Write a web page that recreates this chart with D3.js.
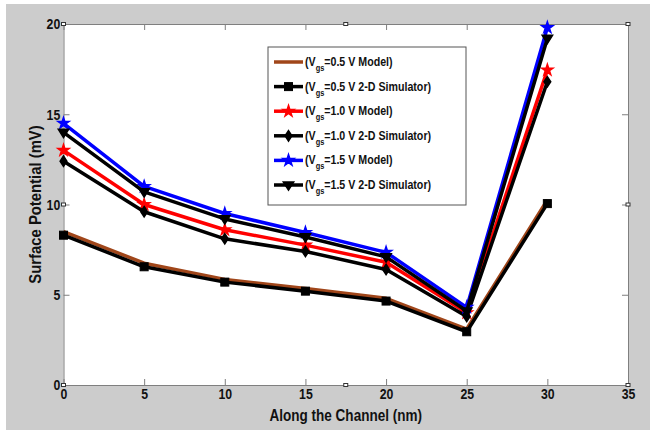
<!DOCTYPE html>
<html>
<head>
<meta charset="utf-8">
<script src="https://cdn.jsdelivr.net/npm/d3@7"></script>
<style>
  body { margin: 0; background: #fff; }
  svg text { font-family: "Liberation Sans", Arial, sans-serif; font-weight: bold; }
</style>
</head>
<body>
<svg id="chart" width="650" height="430"></svg>
<script>
// data
var channel = [0, 5, 10, 15, 20, 25, 30];
var model05 = [8.5, 6.75, 5.85, 5.35, 4.8, 3.1, 10.25];
var sim05   = [8.3, 6.55, 5.7, 5.2, 4.65, 2.95, 10.05];
var model10 = [13.0, 10.0, 8.6, 7.75, 6.8, 4.0, 17.45];
var sim10   = [12.4, 9.6, 8.1, 7.4, 6.4, 3.8, 16.8];
var model15 = [14.5, 11.0, 9.5, 8.45, 7.35, 4.3, 19.8];
var sim15   = [14.0, 10.7, 9.2, 8.2, 7.1, 4.1, 19.2];
var xTicks = [0, 5, 10, 15, 20, 25, 30, 35];
var yTicks = [0, 5, 10, 15, 20];

var series = [
  { name: "=0.5 V Model", values: model05, color: "#a0461a", marker: "none" },
  { name: "=0.5 V 2-D Simulator", values: sim05, color: "#000", marker: "square" },
  { name: "=1.0 V Model", values: model10, color: "#ff0000", marker: "star" },
  { name: "=1.0 V 2-D Simulator", values: sim10, color: "#000", marker: "diamond" },
  { name: "=1.5 V Model", values: model15, color: "#0000ff", marker: "star" },
  { name: "=1.5 V 2-D Simulator", values: sim15, color: "#000", marker: "tridown" }
];

var svg = d3.select("#chart");
var margin = { left: 63.5, right: 22, top: 24, bottom: 45 };
var W = 650, H = 430;
var squeeze = 0.82; // the original font is a condensed bold sans

// grey figure background
svg.append("rect").attr("x", 6).attr("y", 4).attr("width", W - 6).attr("height", H - 4).attr("fill", "#cccccc");

var x = d3.scaleLinear().domain([0, 35]).range([margin.left, W - margin.right]);
var y = d3.scaleLinear().domain([0, 20]).range([H - margin.bottom, margin.top]);

svg.append("rect")
  .attr("x", x(0)).attr("y", y(20))
  .attr("width", x(35) - x(0)).attr("height", y(0) - y(20))
  .attr("fill", "#fff");

// axes, ticks pointing inwards
var axisColor = "#7f7f7f";
var axBottom = svg.append("g").attr("transform", "translate(0," + y(0) + ")")
  .call(d3.axisBottom(x).tickValues(xTicks).tickSizeInner(-6).tickSizeOuter(0).tickPadding(3));
var axTop = svg.append("g").attr("transform", "translate(0," + y(20) + ")")
  .call(d3.axisTop(x).tickValues(xTicks).tickSizeInner(-6).tickSizeOuter(0).tickFormat(""));
var axLeft = svg.append("g").attr("transform", "translate(" + x(0) + ",0)")
  .call(d3.axisLeft(y).tickValues(yTicks).tickSizeInner(-6).tickSizeOuter(0).tickPadding(4));
var axRight = svg.append("g").attr("transform", "translate(" + x(35) + ",0)")
  .call(d3.axisRight(y).tickValues(yTicks).tickSizeInner(-6).tickSizeOuter(0).tickFormat(""));

[axBottom, axTop, axLeft, axRight].forEach(function (g) {
  g.select(".domain").attr("stroke", axisColor);
  g.selectAll(".tick line").attr("stroke", axisColor);
  g.selectAll(".tick text").attr("fill", "#111").attr("font-size", 15).attr("font-weight", "bold")
    .attr("font-family", "'Liberation Sans', Arial, sans-serif")
    .attr("transform", "scale(" + squeeze + ",1)");
});

// little matlab artifacts on the axes
var bits = [[17.5, 0], [17.5, 20], [0, 10], [35, 10], [0, 0], [35, 0], [0, 20], [35, 20]];
svg.selectAll(".bit").data(bits).enter().append("rect")
  .attr("x", function (d) { return x(d[0]) - 2; })
  .attr("y", function (d) { return y(d[1]) - 1.5; })
  .attr("width", 4).attr("height", 3)
  .attr("fill", "#fff").attr("stroke", "#333").attr("stroke-width", 1);

// axis titles
svg.append("text")
  .attr("transform", "translate(" + ((x(0) + x(35)) / 2) + ",421) scale(" + squeeze + ",1)")
  .attr("text-anchor", "middle").attr("font-size", 16.5).attr("fill", "#111")
  .text("Along the Channel (nm)");
svg.append("text")
  .attr("transform", "translate(41," + ((y(0) + y(20)) / 2) + ") rotate(-90) scale(0.9,1)")
  .attr("text-anchor", "middle").attr("font-size", 16.5).attr("fill", "#111")
  .text("Surface Potential (mV)");

function drawMarker(g, type, color, cx, cy, s) {
  if (type === "square") {
    g.append("rect").attr("x", cx - s / 2).attr("y", cy - s / 2).attr("width", s).attr("height", s)
      .attr("fill", "#000").attr("stroke", "#000").attr("stroke-width", 1);
  } else if (type === "star") {
    g.append("path").attr("d", d3.symbol().type(d3.symbolStar).size(s * s * 0.6)())
      .attr("transform", "translate(" + cx + "," + cy + ")")
      .attr("fill", color).attr("stroke", color).attr("stroke-width", 1.5);
  } else if (type === "diamond") {
    var r = s * 0.65;
    g.append("path").attr("d", "M" + cx + "," + (cy - r) + "L" + (cx + r * 0.65) + "," + cy + "L" + cx + "," + (cy + r) + "L" + (cx - r * 0.65) + "," + cy + "Z")
      .attr("fill", "#000").attr("stroke", "#000").attr("stroke-width", 1.5);
  } else if (type === "tridown") {
    var t = s * 0.65;
    g.append("path").attr("d", "M" + (cx - t) + "," + (cy - t * 0.6) + "L" + (cx + t) + "," + (cy - t * 0.6) + "L" + cx + "," + (cy + t) + "Z")
      .attr("fill", "#000").attr("stroke", "#000").attr("stroke-width", 1.5);
  }
}

var line = d3.line()
  .x(function (d, i) { return x(channel[i]); })
  .y(function (d) { return y(d); });

var plot = svg.append("g");
series.forEach(function (s) {
  var g = plot.append("g");
  g.append("path").datum(s.values)
    .attr("d", line).attr("fill", "none")
    .attr("stroke", s.color).attr("stroke-width", 3.5)
    .attr("stroke-linejoin", "round");
  s.values.forEach(function (v, i) {
    drawMarker(g, s.marker, s.color, x(channel[i]), y(v), 8);
  });
});

// legend
var leg = svg.append("g");
leg.append("rect").attr("x", 268).attr("y", 47).attr("width", 198).attr("height", 158)
  .attr("fill", "#fff").attr("stroke", "#555").attr("stroke-width", 1);
series.forEach(function (s, i) {
  var ly = 62 + i * 24.6;
  leg.append("line").attr("x1", 274).attr("x2", 303).attr("y1", ly).attr("y2", ly)
    .attr("stroke", s.color).attr("stroke-width", 3.5);
  drawMarker(leg, s.marker, s.color, 288.5, ly, 8);
  var t = leg.append("text")
    .attr("transform", "translate(305," + (ly + 4) + ") scale(" + squeeze + ",1)")
    .attr("font-size", 13).attr("fill", "#111");
  t.append("tspan").text("(V");
  t.append("tspan").attr("dy", 5).attr("font-size", 9).text("gs");
  t.append("tspan").attr("dy", -5).text(s.name + ")");
});
</script>
</body>
</html>
